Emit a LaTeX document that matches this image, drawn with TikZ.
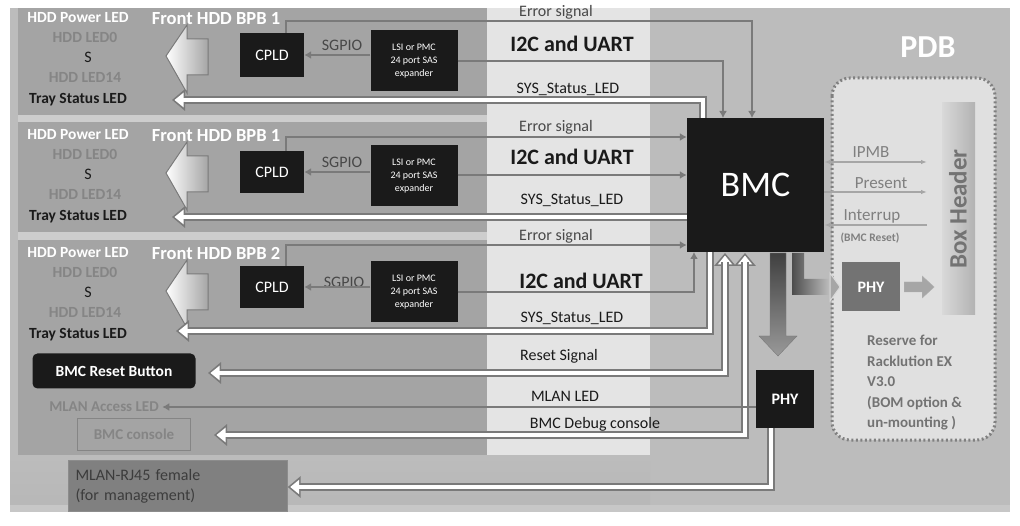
\documentclass[tikz,border=0pt]{standalone}
\usepackage{fontspec}
\setmainfont{Carlito}
\usetikzlibrary{arrows.meta,calc}
\definecolor{bgR}{HTML}{BCBCBC}
\definecolor{panel}{HTML}{A4A4A4}
\definecolor{strip}{HTML}{E4E4E4}
\definecolor{sep}{HTML}{CDCDCD}
\definecolor{ln}{HTML}{7A7A7A}
\definecolor{dk}{HTML}{1A1A1A}
\definecolor{gtx}{HTML}{858585}
\tikzset{
  sig/.style={draw=ln,line width=2.6pt,-{Latex[length=7pt,width=8pt]}},
  hollowA/.style={draw=ln,line width=8pt,-{Triangle[length=13pt,width=21pt]}},
  hollowB/.style={draw=white,line width=3.5pt,shorten >=2.5pt,-{Triangle[length=9pt,width=14pt]}},
  blk/.style={fill=dk,text=white,inner sep=0pt,align=center},
  lab/.style={font=\fontsize{16}{16}\selectfont,text=dk},
  bold16/.style={font=\bfseries\fontsize{22}{22}\selectfont,text=dk},
  ltxt/.style={font=\bfseries\fontsize{15.5}{15.5}\selectfont},
  bigarrow/.style={draw=ln,line width=1pt,left color=white,right color=black!35},
}
\begin{document}
\begin{tikzpicture}[x=1pt,y=-1pt]
\useasboundingbox (0,0) rectangle (1020,526);
\fill[white] (0,0) rectangle (1020,526);
% backgrounds
\fill[bgR] (10,8) rectangle (1010,505);
\fill[panel] (18,8) rectangle (487,115);
\fill[sep] (18,115) rectangle (487,122);
\fill[panel] (18,122) rectangle (487,232);
\fill[sep] (18,232) rectangle (487,240);
\fill[panel] (18,240) rectangle (487,455);
\fill[strip] (487,8) rectangle (650,455);
\fill[top color=bgR,bottom color=black!28] (10,455) rectangle (650,505);
\fill[black!22] (10,505) rectangle (1010,512);
% PDB
\node[font=\bfseries\fontsize{32}{32}\selectfont,text=white] (pdb) at (928,47) {PDB};
\draw[draw=black!50,line width=3pt,dash pattern=on 2pt off 2.5pt,fill=black!12,rounded corners=18pt] (832,78) rectangle (995,440);
\shade[left color=black!15,right color=black!30] (942,103) rectangle (975,315);
\node[rotate=90,font=\bfseries\fontsize{25}{25}\selectfont,text=black!55] (bh) at (958,209) {Box Header};
% left labels per row
\foreach \o/\t in {0/1,117/1,235/2}{
  \node[ltxt,text=white] at (78,18+\o) {HDD Power LED};
  \node[ltxt,text=gtx] at (85,37+\o) {HDD LED0};
  \node[ltxt,text=dk,font=\fontsize{16}{16}\selectfont] at (88,57+\o) {S};
  \node[ltxt,text=gtx] at (85,77+\o) {HDD LED14};
  \node[ltxt,text=dk] at (78,100+\o) {Tray Status LED};
  \draw[bigarrow] (166,56+\o) -- (187,25+\o) -- (187,39+\o) -- (208,39+\o) -- (208,75+\o) -- (187,75+\o) -- (187,93+\o) -- cycle;
  \node[font=\bfseries\fontsize{18.5}{18.5}\selectfont,text=white] at (216,19+\o) {Front HDD BPB \t};
}
% blocks
\node[blk,minimum width=64pt,minimum height=44pt,font=\fontsize{16}{16}\selectfont] (cpld1) at (272,55) {CPLD};
\node[blk,minimum width=64pt,minimum height=42pt,font=\fontsize{16}{16}\selectfont] (cpld2) at (272,172) {CPLD};
\node[blk,minimum width=64pt,minimum height=42pt,font=\fontsize{16}{16}\selectfont] (cpld3) at (272,287) {CPLD};
\node[blk,minimum width=87pt,minimum height=61pt,font=\fontsize{10}{13}\selectfont] (lsi1) at (414,61) {LSI or PMC\\24 port SAS\\expander};
\node[blk,minimum width=87pt,minimum height=61pt,font=\fontsize{10}{13}\selectfont] (lsi2) at (414,176) {LSI or PMC\\24 port SAS\\expander};
\node[blk,minimum width=87pt,minimum height=61pt,font=\fontsize{10}{13}\selectfont] (lsi3) at (414,292) {LSI or PMC\\24 port SAS\\expander};
\node[blk,minimum width=137pt,minimum height=134pt,font=\fontsize{36}{36}\selectfont] (bmc) at (755.5,185) {BMC};
\node[blk,minimum width=58pt,minimum height=58pt,font=\bfseries\fontsize{16}{16}\selectfont] (phy) at (785,399) {PHY};
\node[blk,fill=black!55,minimum width=58pt,minimum height=49pt,font=\bfseries\fontsize{16}{16}\selectfont] (phyr) at (871,287) {PHY};
\node[blk,rounded corners=5pt,minimum width=163pt,minimum height=35pt,font=\bfseries\fontsize{15.5}{15.5}\selectfont] (rst) at (114,371) {BMC Reset Button};
\node[font=\bfseries\fontsize{15}{15}\selectfont,text=gtx] (mlanacc) at (104,407) {MLAN Access LED};
\node[draw=gtx,line width=1pt,minimum width=113pt,minimum height=32pt,font=\bfseries\fontsize{15}{15}\selectfont,text=gtx] (con) at (134,434) {BMC console};
\node[fill=black!50,draw=black!45,minimum width=219pt,minimum height=51pt,align=left,text=dk!85,font=\fontsize{16}{20}\selectfont,text width=205pt] (rj) at (178,486) {MLAN-RJ45 female\\(for management)};
% middle labels
\foreach \y/\t in {12/Error signal,127/Error signal,236/Error signal}{\node[lab,text=dk!80] at (556,\y) {\t};}
\foreach \x/\y in {572/44,572/157,581/281}{\node[bold16] at (\x,\y) {I2C and UART};}
\foreach \x/\y in {568/89,572/200,572/318}{\node[lab] at (\x,\y) {SYS\_Status\_LED};}
\node[lab] at (559,356) {Reset Signal};
\node[lab] at (565,396) {MLAN LED};
\node[lab] at (595,424) {BMC Debug console};
\node[font=\fontsize{16}{16}\selectfont,text=dk!80] at (342,45) {SGPIO};
\node[font=\fontsize{16}{16}\selectfont,text=dk!80] at (342,162) {SGPIO};
\node[font=\fontsize{16}{16}\selectfont,text=dk!80] at (344,282) {SGPIO};
% SGPIO arrows
\foreach \i in {1,2,3}{\draw[sig] (lsi\i.west |- cpld\i.east) -- (cpld\i.east);}
% error signals
\draw[sig] (286,33) |- (752,21) -- (752,118);
\draw[sig] (286,151) |- (bmc.west |- 0,137);
\draw[sig] (286,266) |- (bmc.west |- 0,245);
% I2C
\draw[sig] (lsi1.east) -| (723,118);
\draw[sig] (lsi2.east |- 0,175) -- (bmc.west |- 0,175);
\draw[sig] (lsi3.east) -| (694,252);
% hollow SYS status
\draw[hollowA] (703,118) |- (172,100);
\draw[hollowB] (703,118) |- (172,100);
\draw[hollowA] (bmc.west |- 0,217) -- (172,217);
\draw[hollowB] (bmc.west |- 0,217) -- (172,217);
\draw[hollowA] (710,252) |- (176,331);
\draw[hollowB] (710,252) |- (176,331);
% reset and debug (two-way)
\foreach \x/\y/\e in {725/373/208,745/435/214}{
  \draw[hollowA] (\x,\y) -- (\x,253);
  \draw[hollowB] (\x,\y) -- (\x,253);
  \draw[hollowA] (\x,262) |- (\e,\y);
  \draw[hollowB] (\x,262) |- (\e,\y);
}
% MLAN LED
\draw[sig,line width=2pt] (phy.west |- 0,407) -- (mlanacc.east);
% PHY to RJ45
\draw[hollowA] (phy.south -| 771,0) |- (rj.east |- 0,487);
\draw[hollowB] (phy.south -| 771,0) |- (rj.east |- 0,487);
% big down arrow
\shade[top color=black!75,bottom color=black!40,draw=ln] (770,253) -- (786,253) -- (786,336) -- (797,336) -- (778,356) -- (759,336) -- (770,336) -- cycle;
% BMC to right PHY
\shade[left color=black!70,right color=black!25] (792,253) -- (804,253) -- (804,279) -- (830,279) -- (830,295) -- (792,295) -- cycle;
\draw[draw=black!15,line width=1pt,fill=black!35] (830,273) -- (840,287) -- (830,301) -- cycle;
% PHY right to box header
\draw[fill=black!35,draw=black!30] (phyr.east) ++(4,-5) -- ++(18,0) -- ++(0,-6) -- ++(12,11) -- ++(-12,11) -- ++(0,-6) -- ++(-18,0) -- cycle;
% IPMB etc
\node[font=\fontsize{17}{17}\selectfont,text=black!50] at (871,152) {IPMB};
\node[font=\fontsize{17}{17}\selectfont,text=black!50] at (881,183) {Present};
\node[font=\fontsize{17}{17}\selectfont,text=black!50] at (872,216) {Interrup};
\node[font=\bfseries\fontsize{11.5}{11.5}\selectfont,text=black!50] at (870,238) {(BMC Reset)};
\draw[draw=black!35,line width=2pt,{Latex[length=6pt]}-{Latex[length=6pt]}] (bmc.east |- 0,162) -- (927,162);
\draw[draw=black!35,line width=2pt,-{Latex[length=6pt]}] (bmc.east |- 0,192) -- (927,192);
\draw[draw=black!35,line width=2pt,-{Latex[length=6pt]}] (927,225) -- (bmc.east |- 0,225);
\node[align=left,anchor=north west,font=\bfseries\fontsize{15}{20.5}\selectfont,text=black!55,inner sep=0pt] at (867,335) {Reserve for\\Racklution EX\\V3.0\\(BOM option \&\\un-mounting )};
\end{tikzpicture}
\end{document}
